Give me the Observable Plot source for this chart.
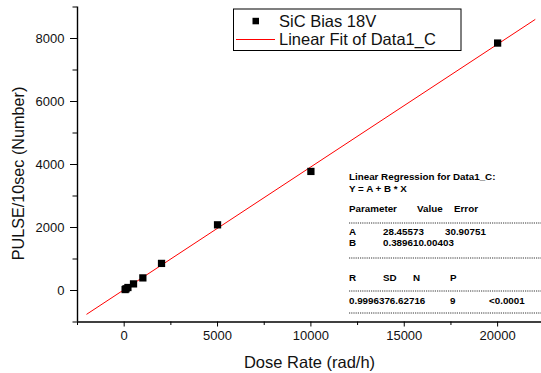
<!DOCTYPE html>
<html><head><meta charset="utf-8">
<script src="https://cdn.jsdelivr.net/npm/d3@7"></script>
<script src="https://cdn.jsdelivr.net/npm/@observablehq/plot@0.6"></script>
<style>body{margin:0;background:#fff} #chart svg{display:block}</style>
</head><body><div id="chart"></div>
<script>
const doseRate = [50, 100, 200, 500, 1000, 2000, 5000, 10000, 20000];
const pulses = [30, 55, 95, 210, 400, 860, 2085, 3780, 7855];
const fitX = [-2000, 22000];
const fitY = [-750.76, 8599.88];
const xTicks = [0, 5000, 10000, 15000, 20000];
const xMinorTicks = [-2500, 2500, 7500, 12500, 17500];
const yTicks = [0, 2000, 4000, 6000, 8000];
const yMinorTicks = [-1000, 1000, 3000, 5000, 7000, 9000];
const legendLabels = ["SiC Bias 18V", "Linear Fit of Data1_C"];
const regTitle = ["Linear Regression for Data1_C:", "Y = A + B * X"];
const paramHeader = ["Parameter", "Value", "Error"];
const paramRows = [["A", "28.45573", "30.90751"], ["B", "0.389610.00403", ""]];
const statHeader = ["R", "SD", "N", "P"];
const statRow = ["0.9996376.62716", "", "9", "<0.0001"];

const points = doseRate.map((x, i) => ({x, y: pulses[i]}));
const fit = fitX.map((x, i) => ({x, y: fitY[i]}));
const FONT = "'Liberation Sans', Arial, sans-serif";

const chart = Plot.plot({
  width: 541, height: 373,
  marginLeft: 77, marginRight: 0, marginTop: 6.5, marginBottom: 51.5,
  style: {fontFamily: FONT, background: "#fff", color: "#000"},
  x: {domain: [-2500, 22350]},
  y: {domain: [-1000, 9000]},
  marks: [
    Plot.axisX(xTicks, {tickSize: 5, tickPadding: 4, fontSize: 13, label: null, tickFormat: d => String(d), fill: "#111"}),
    Plot.axisX(xMinorTicks, {tickSize: 3.5, text: null, label: null}),
    Plot.axisY(yTicks, {tickSize: 7, tickPadding: 6, fontSize: 13, label: null, tickFormat: d => String(d), fill: "#111"}),
    Plot.axisY(yMinorTicks, {tickSize: 4.5, text: null, label: null}),
    Plot.ruleY([-1000], {stroke: "#000", strokeWidth: 1.4}),
    Plot.ruleX([-2500], {stroke: "#000", strokeWidth: 1.4}),
    Plot.line(fit, {x: "x", y: "y", stroke: "#ff0000", strokeWidth: 1}),
    Plot.dot(points, {x: "x", y: "y", symbol: "square", r: 4.1, fill: "#000", stroke: "none"}),
    Plot.text(["PULSE/10sec (Number)"], {frameAnchor: "left", textAnchor: "middle", rotate: -90, dx: -58.5, dy: 9, fontSize: 16.2, fill: "#111"}),
    Plot.text(["Dose Rate (rad/h)"], {frameAnchor: "bottom", dy: 40.5, fontSize: 16.5, lineAnchor: "middle", fill: "#111"})
  ]
});
document.getElementById("chart").appendChild(chart);

const svg = d3.select(chart);
// Legend
const lg = svg.append("g").attr("font-family", FONT).attr("font-size", 16.5).attr("fill", "#111").attr("text-anchor", "start");
lg.append("rect").attr("x", 233.5).attr("y", 9).attr("width", 227.5).attr("height", 41.5)
  .attr("fill", "#fff").attr("stroke", "#000").attr("stroke-width", 1);
lg.append("rect").attr("x", 252.5).attr("y", 17.8).attr("width", 6.5).attr("height", 6.5).attr("fill", "#000");
lg.append("line").attr("x1", 236).attr("x2", 275).attr("y1", 39.5).attr("y2", 39.5)
  .attr("stroke", "#ff0000").attr("stroke-width", 1);
legendLabels.forEach((t, i) => lg.append("text").attr("x", 279).attr("y", 26.5 + i * 18).text(t));

// Regression table
const tg = svg.append("g").attr("font-family", FONT).attr("font-size", 9.8).attr("font-weight", "bold").attr("fill", "#000").attr("text-anchor", "start");
const left = 349;
function row(cells, xs, y) {
  cells.forEach((c, i) => { if (c) tg.append("text").attr("x", xs[i]).attr("y", y).text(c); });
}
function dash(y) {
  tg.append("line").attr("x1", left).attr("x2", 541).attr("y1", y).attr("y2", y)
    .attr("stroke", "#000").attr("stroke-width", 0.8).attr("stroke-dasharray", "1.2,1");
}
regTitle.forEach((t, i) => tg.append("text").attr("x", left).attr("y", 180 + i * 11.5).text(t));
row(paramHeader, [left, 417, 454], 212);
dash(223);
paramRows.forEach((r, i) => row(r, [left, 383, 445], 235 + i * 11));
dash(258);
row(statHeader, [left, 383, 413, 450], 281);
dash(291);
row(statRow, [left, 383, 450, 489], 304);
dash(313);
</script></body></html>
